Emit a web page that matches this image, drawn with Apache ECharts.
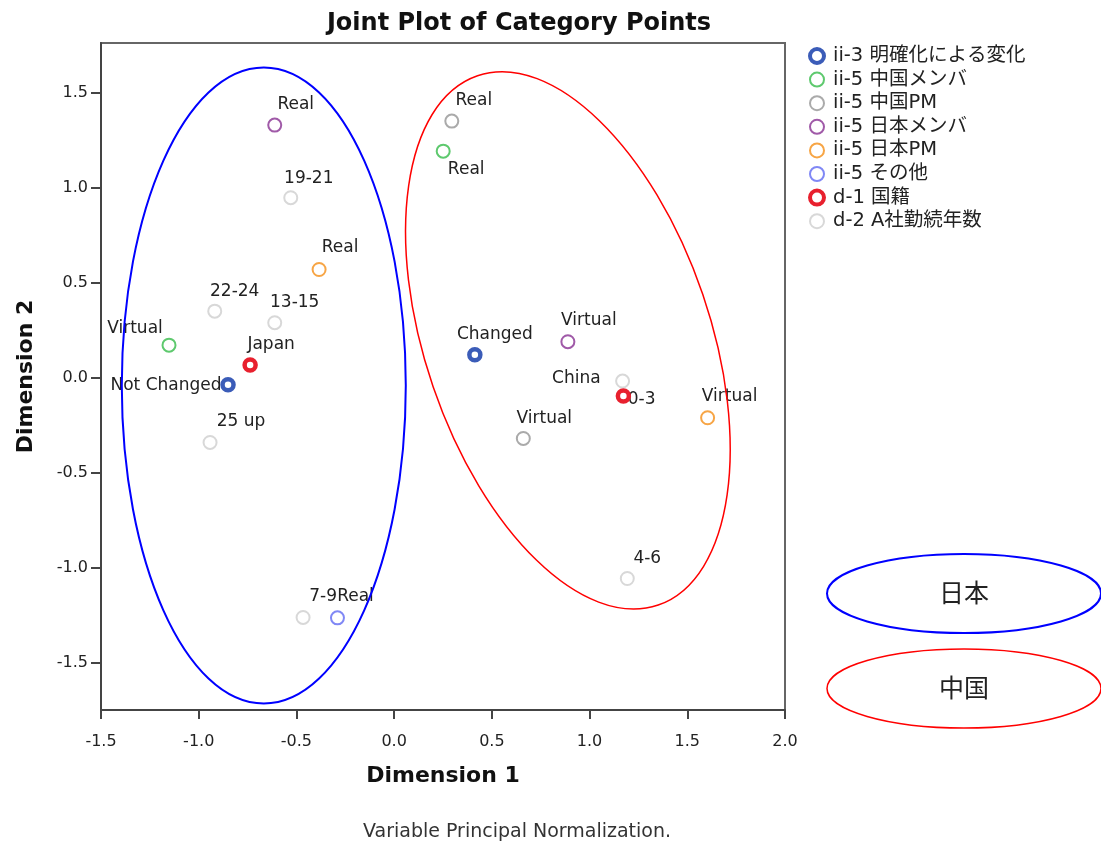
<!DOCTYPE html>
<html>
<head>
<meta charset="utf-8">
<script src="https://cdn.jsdelivr.net/npm/echarts@6/dist/echarts.min.js"></script>
<style>
  html, body { margin: 0; padding: 0; background: #fff; }
  #chart { width: 1101px; height: 844px; }
</style>
</head>
<body>
<div id="chart"></div>
<script>
// Category quantifications (Dimension 1, Dimension 2) per variable
const seriesNames = [
  'ii-3 明確化による変化',
  'ii-5 中国メンバ',
  'ii-5 中国PM',
  'ii-5 日本メンバ',
  'ii-5 日本PM',
  'ii-5 その他',
  'd-1 国籍',
  'd-2 A社勤続年数'
];

const ii3Cats = ['Not Changed', 'Changed'];
const ii3Pts = [[-0.850, -0.038], [0.413, 0.119]];

const cnMemberCats = ['Virtual', 'Real'];
const cnMemberPts = [[-1.152, 0.170], [0.251, 1.191]];

const cnPmCats = ['Real', 'Virtual'];
const cnPmPts = [[0.295, 1.349], [0.661, -0.321]];

const jpMemberCats = ['Real', 'Virtual'];
const jpMemberPts = [[-0.611, 1.328], [0.889, 0.188]];

const jpPmCats = ['Real', 'Virtual'];
const jpPmPts = [[-0.384, 0.568], [1.604, -0.212]];

const otherCats = ['Real'];
const otherPts = [[-0.290, -1.265]];

const nationCats = ['Japan', 'China'];
const nationPts = [[-0.737, 0.065], [1.173, -0.098]];

const tenureCats = ['0-3', '4-6', '7-9', '13-15', '19-21', '22-24', '25 up'];
const tenurePts = [
  [1.169, -0.019], [1.193, -1.058], [-0.466, -1.263], [-0.611, 0.288],
  [-0.529, 0.946], [-0.918, 0.349], [-0.942, -0.342]
];

// Axis ticks
const xTickValues = [-1.5, -1.0, -0.5, 0.0, 0.5, 1.0, 1.5, 2.0];
const yTickValues = [-1.5, -1.0, -0.5, 0.0, 0.5, 1.0, 1.5];

// Group outlines (centres in data units)
const japanGroupCenter = [-0.667, -0.042];
const chinaGroupCenter = [0.889, 0.195];

// ---- styling ----
const seriesColors = ['#3b5cb8', '#5ec96e', '#aaaaaa', '#a05aa8', '#f7a545', '#8088f5', '#e8202e', '#d8d8d8'];
const thickSeries = [true, false, false, false, false, false, true, false];

// label offsets (px) from each point to its text centre
const labelOffsets = [
  [[-62, 1], [20, -20]],
  [[-34, -17], [23, 18]],
  [[22, -21], [21, -20]],
  [[21, -21], [21, -21]],
  [[21, -22], [22, -21]],
  [[18, -21]],
  [[21, -21], [-47, -17]],
  [[19, 19], [20, -20], [20, -21], [20, -20], [18, -19], [20, -20], [31, -21]]
];

const allCats = [ii3Cats, cnMemberCats, cnPmCats, jpMemberCats, jpPmCats, otherCats, nationCats, tenureCats];
const allPts = [ii3Pts, cnMemberPts, cnPmPts, jpMemberPts, jpPmPts, otherPts, nationPts, tenurePts];

const FONT = 'DejaVu Sans';
const FONT_CJK = 'DejaVu Sans, "Noto Sans CJK JP"';

const series = seriesNames.map((name, si) => ({
  name: name,
  type: 'scatter',
  symbol: 'circle',
  symbolSize: thickSeries[si] ? 11 : 13,
  itemStyle: {
    color: '#ffffff',
    borderColor: seriesColors[si],
    borderWidth: thickSeries[si] ? 4.5 : 2,
    opacity: 1
  },
  label: {
    show: true,
    position: 'inside',
    formatter: '{b}',
    fontFamily: FONT,
    fontSize: 17,
    color: '#222'
  },
  labelLayout: function (params) {
    const off = labelOffsets[si][params.dataIndex];
    return { dx: off[0], dy: off[1], hideOverlap: false };
  },
  z: thickSeries[si] ? 3 : 2,
  data: allPts[si].map((p, i) => ({ name: allCats[si][i], value: p }))
}));

const chart = echarts.init(document.getElementById('chart'), null, { renderer: 'canvas' });

const option = {
  animation: false,
  backgroundColor: '#ffffff',
  title: [
    {
      text: 'Joint Plot of Category Points',
      left: 519, top: 12, textAlign: 'center', padding: 0,
      textStyle: { fontFamily: FONT, fontWeight: 'bold', fontSize: 24, color: '#111' }
    },
    {
      text: 'Variable Principal Normalization.',
      left: 517, top: 823, textAlign: 'center', padding: 0,
      textStyle: { fontFamily: FONT, fontWeight: 'normal', fontSize: 19, color: '#333' }
    }
  ],
  legend: {
    orient: 'vertical',
    left: 808, top: 46, padding: 0,
    itemWidth: 14, itemHeight: 14, itemGap: 3.6,
    textStyle: { fontFamily: FONT_CJK, fontSize: 19.5, lineHeight: 20, color: '#222', padding: [0, 0, 0, 4] },
    data: seriesNames.map((n, i) => ({
      name: n,
      itemStyle: { borderWidth: thickSeries[i] ? 4 : 2 }
    }))
  },
  grid: {
    left: 101, right: 316, top: 43, bottom: 134,
    show: true, borderColor: '#666', borderWidth: 2, backgroundColor: 'transparent'
  },
  xAxis: {
    type: 'value',
    min: -1.5, max: 2.0,
    name: 'Dimension 1',
    nameLocation: 'middle',
    nameGap: 55,
    nameTextStyle: { fontFamily: FONT, fontWeight: 'bold', fontSize: 22, color: '#111' },
    axisLine: { show: true, onZero: false, lineStyle: { color: '#444', width: 2 } },
    axisTick: { show: true, length: 9, customValues: xTickValues, lineStyle: { color: '#444', width: 2 } },
    axisLabel: {
      customValues: xTickValues,
      formatter: v => v.toFixed(1),
      fontFamily: FONT, fontSize: 16, color: '#222', margin: 24
    },
    splitLine: { show: false }
  },
  yAxis: {
    type: 'value',
    min: -1.75, max: 1.76,
    name: 'Dimension 2',
    nameLocation: 'middle',
    nameGap: 64,
    nameTextStyle: { fontFamily: FONT, fontWeight: 'bold', fontSize: 22, color: '#111' },
    axisLine: { show: true, onZero: false, lineStyle: { color: '#444', width: 2 } },
    axisTick: { show: true, length: 10, customValues: yTickValues, lineStyle: { color: '#444', width: 2 } },
    axisLabel: {
      customValues: yTickValues,
      formatter: v => v.toFixed(1),
      fontFamily: FONT, fontSize: 16, color: '#222', margin: 13
    },
    splitLine: { show: false }
  },
  series: series
};

chart.setOption(option);

// Group outlines drawn over the plot, plus the key at the lower right
const jp = chart.convertToPixel({ gridIndex: 0 }, japanGroupCenter);
const cn = chart.convertToPixel({ gridIndex: 0 }, chinaGroupCenter);

chart.setOption({
  graphic: [
    {
      type: 'ellipse', x: jp[0], y: jp[1], z: 100, silent: true,
      shape: { cx: 0, cy: 0, rx: 142, ry: 318 },
      style: { fill: 'none', stroke: '#0000ff', lineWidth: 2 }
    },
    {
      type: 'ellipse', x: cn[0], y: cn[1], z: 100, silent: true,
      rotation: 18.85 * Math.PI / 180,
      shape: { cx: 0, cy: 0, rx: 142.5, ry: 279.6 },
      style: { fill: 'none', stroke: '#ff0000', lineWidth: 1.5 }
    },
    {
      type: 'ellipse', z: 100, silent: true,
      shape: { cx: 964, cy: 593.5, rx: 137, ry: 39.5 },
      style: { fill: 'none', stroke: '#0000ff', lineWidth: 2 }
    },
    {
      type: 'text', x: 964, y: 592, z: 101, silent: true,
      style: { text: '日本', fill: '#222', fontFamily: '"Noto Sans CJK JP"', fontSize: 25, align: 'center', verticalAlign: 'middle' }
    },
    {
      type: 'ellipse', z: 100, silent: true,
      shape: { cx: 964, cy: 688.5, rx: 137, ry: 39.5 },
      style: { fill: 'none', stroke: '#ff0000', lineWidth: 1.5 }
    },
    {
      type: 'text', x: 964, y: 687, z: 101, silent: true,
      style: { text: '中国', fill: '#222', fontFamily: '"Noto Sans CJK JP"', fontSize: 25, align: 'center', verticalAlign: 'middle' }
    }
  ]
});
</script>
</body>
</html>
